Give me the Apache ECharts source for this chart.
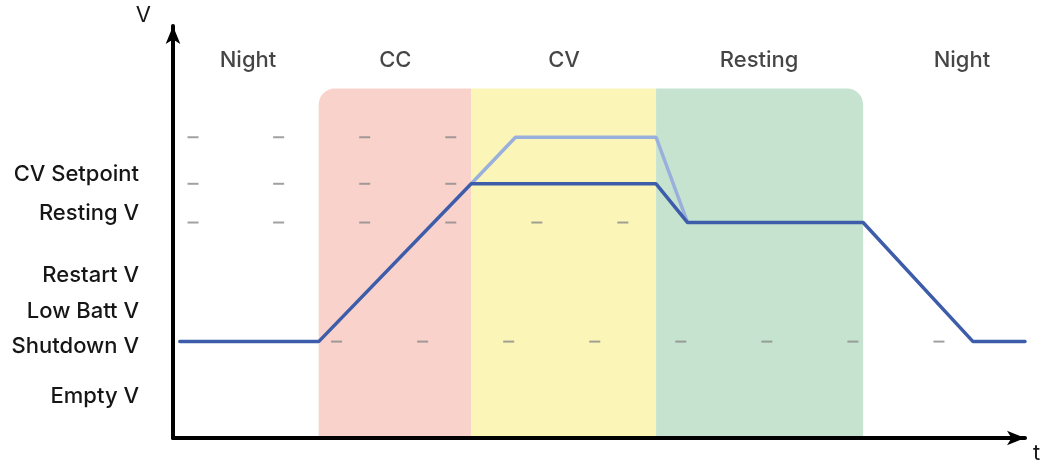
<!DOCTYPE html>
<html>
<head>
<meta charset="utf-8">
<style>
  html, body { margin: 0; padding: 0; background: #fff; }
  #chart { width: 1045px; height: 464px; }
</style>
<script src="https://cdn.jsdelivr.net/npm/echarts@6/dist/echarts.min.js"></script>
</head>
<body>
<div id="chart"></div>
<script>
// voltage levels shown on the y axis
const levelNames = ['CV Setpoint', 'Resting V', 'Restart V', 'Low Batt V', 'Shutdown V', 'Empty V'];
const levelValues = [64.1, 54.5, 39.5, 30.8, 22.2, 10.1];

// phases along time
const phaseNames = ['Night', 'CC', 'CV', 'Resting', 'Night'];
const phaseCenters = [8.8, 26.1, 45.9, 68.8, 92.6];
const phaseLabelY = 91.6;

// shaded bands: [start, end, top]
const bandStarts = [17.1, 35.0, 56.7];
const bandEnds = [35.0, 56.7, 81.0];
const bandTop = 84.8;
const bandColors = ['#f9d3cb', '#fbf5b8', '#c6e3cf'];

// battery voltage (dark) and charger target (light)
const voltageT = [0.8, 17.1, 35.0, 56.7, 60.4, 81.0, 93.9, 100];
const voltageV = [23.4, 23.4, 61.7, 61.7, 52.3, 52.3, 23.4, 23.4];
const targetT = [35.0, 40.2, 56.7, 60.4];
const targetV = [61.7, 73.0, 73.0, 52.3];

// small grey tick dashes
const dashRowsTop = [73.0, 61.7, 52.3];
const dashXTop = [2.35, 12.4, 22.5, 32.6];
const dashXRest = [42.7, 52.8];
const dashRowLow = 23.4;
const dashXLow = [19.2, 29.3, 39.4, 49.5, 59.6, 69.7, 79.8, 89.9];

const dashes = [];
dashRowsTop.forEach((y) => dashXTop.forEach((x) => dashes.push([x, y])));
dashXRest.forEach((x) => dashes.push([x, 52.3]));
dashXLow.forEach((x) => dashes.push([x, dashRowLow]));

const font = 'Inter, "Noto Sans", sans-serif';
const textColor = '#161616';
const chart = echarts.init(document.getElementById('chart'));

chart.setOption({
  animation: false,
  grid: { left: 173, right: 20, top: 26, bottom: 23 },
  xAxis: {
    type: 'value', min: 0, max: 100,
    name: 't', nameGap: 8,
    nameTextStyle: { color: textColor, fontSize: 22, fontFamily: font, verticalAlign: 'top', padding: [4, 0, 0, 0] },
    axisLine: { lineStyle: { color: '#000', width: 4 }, symbol: ['none', 'arrow'], symbolSize: [11, 18] },
    axisTick: { show: false }, axisLabel: { show: false }, splitLine: { show: false },
  },
  yAxis: {
    type: 'value', min: 0, max: 100,
    name: 'V', nameGap: 0,
    nameTextStyle: { color: textColor, fontSize: 22, fontFamily: font, align: 'right', padding: [0, 22, 0, 0] },
    axisLine: { lineStyle: { color: '#000', width: 4 }, symbol: ['none', 'arrow'], symbolSize: [11, 18] },
    axisTick: { show: false }, splitLine: { show: false },
    axisLabel: {
      customValues: levelValues,
      margin: 34,
      color: textColor, fontSize: 22, fontFamily: font, fontWeight: 500,
      formatter: (v) => levelNames[levelValues.indexOf(v)] || '',
    },
  },
  series: [
    {
      type: 'custom',
      z: 1,
      data: bandStarts.map((s, i) => [s, bandEnds[i], bandTop, i]),
      renderItem: (params, api) => {
        const p0 = api.coord([api.value(0), api.value(2)]);
        const p1 = api.coord([api.value(1), 0]);
        const i = api.value(3);
        const r = 16;
        const radius = i === 0 ? [r, 0, 0, 0] : i === bandStarts.length - 1 ? [0, r, 0, 0] : 0;
        return {
          type: 'rect',
          shape: { x: p0[0], y: p0[1], width: p1[0] - p0[0], height: p1[1] - p0[1] - 2, r: radius },
          style: { fill: bandColors[i] },
        };
      },
    },
    {
      type: 'scatter',
      z: 2,
      symbol: 'rect',
      symbolSize: [11, 2],
      itemStyle: { color: '#8a8a8a' },
      data: dashes,
    },
    {
      type: 'line',
      z: 3,
      symbol: 'none',
      data: targetT.map((t, i) => [t, targetV[i]]),
      lineStyle: { color: '#9ab0dc', width: 3.5 },
    },
    {
      type: 'line',
      z: 4,
      symbol: 'none',
      data: voltageT.map((t, i) => [t, voltageV[i]]),
      lineStyle: { color: '#3d5ca9', width: 3.5, cap: 'round' },
    },
    {
      type: 'scatter',
      z: 5,
      symbolSize: 0,
      data: phaseCenters.map((x, i) => [x, phaseLabelY, phaseNames[i]]),
      label: {
        show: true, position: 'inside',
        formatter: (p) => p.data[2],
        color: textColor, fontSize: 22, fontFamily: font, fontWeight: 500,
      },
    },
  ],
});
</script>
</body>
</html>
